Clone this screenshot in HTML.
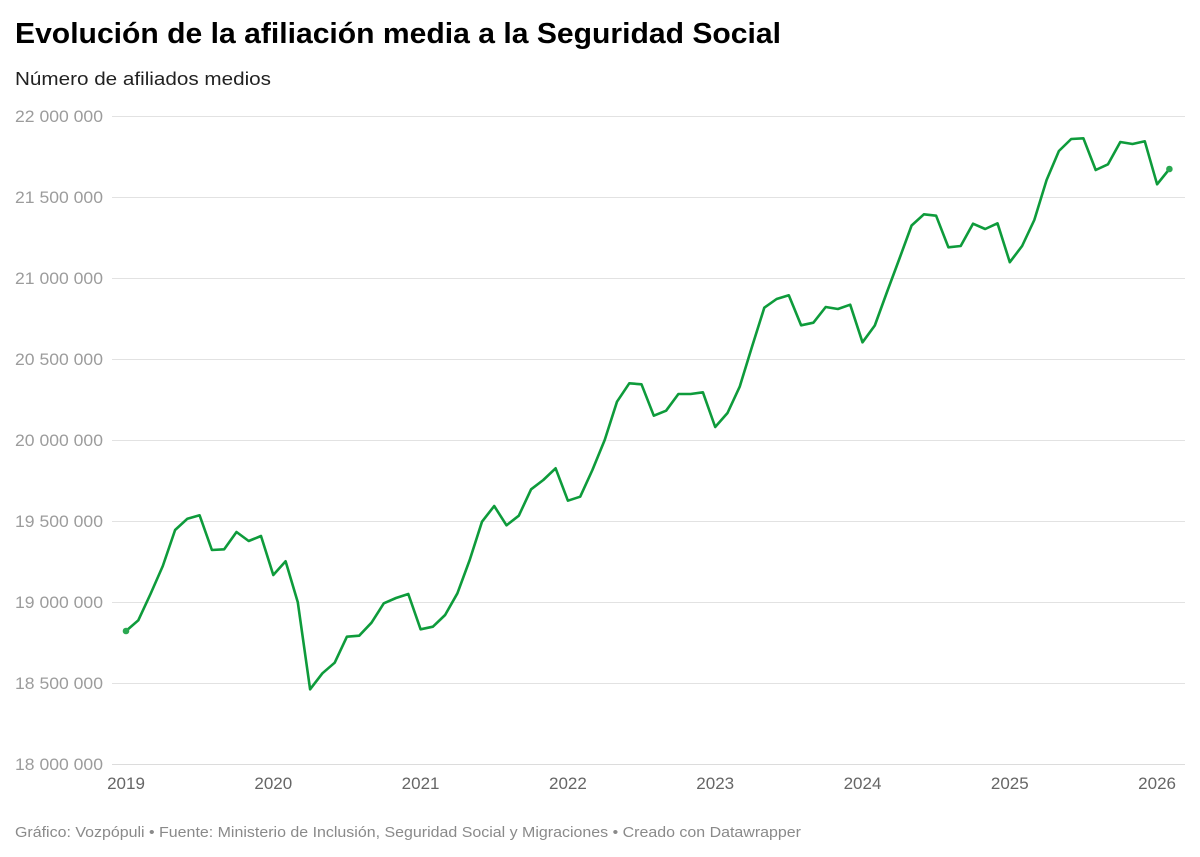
<!DOCTYPE html>
<html>
<head>
<meta charset="utf-8">
<style>
html,body{margin:0;padding:0;background:#fff;}
svg{display:block;}
text{font-family:"Liberation Sans",Arial,sans-serif;}
</style>
</head>
<body>
<svg width="1200" height="857" viewBox="0 0 1200 857" xmlns="http://www.w3.org/2000/svg">
<rect width="1200" height="857" fill="#fff"/>
<text x="15" y="43" font-size="29" font-weight="bold" fill="#000" textLength="766" lengthAdjust="spacingAndGlyphs">Evolución de la afiliación media a la Seguridad Social</text>
<text x="15" y="85" font-size="18" fill="#222" textLength="256" lengthAdjust="spacingAndGlyphs">Número de afiliados medios</text>

<g stroke="#e2e2e2" stroke-width="1">
<line x1="112" y1="116.5" x2="1185" y2="116.5"/>
<line x1="112" y1="197.5" x2="1185" y2="197.5"/>
<line x1="112" y1="278.5" x2="1185" y2="278.5"/>
<line x1="112" y1="359.5" x2="1185" y2="359.5"/>
<line x1="112" y1="440.5" x2="1185" y2="440.5"/>
<line x1="112" y1="521.5" x2="1185" y2="521.5"/>
<line x1="112" y1="602.5" x2="1185" y2="602.5"/>
<line x1="112" y1="683.5" x2="1185" y2="683.5"/>
<line x1="112" y1="764.5" x2="1185" y2="764.5" stroke="#dcdcdc"/>
</g>

<g font-size="17" fill="#9c9c9c">
<text x="15" y="122" textLength="88" lengthAdjust="spacingAndGlyphs">22 000 000</text>
<text x="15" y="203" textLength="88" lengthAdjust="spacingAndGlyphs">21 500 000</text>
<text x="15" y="284" textLength="88" lengthAdjust="spacingAndGlyphs">21 000 000</text>
<text x="15" y="365" textLength="88" lengthAdjust="spacingAndGlyphs">20 500 000</text>
<text x="15" y="446" textLength="88" lengthAdjust="spacingAndGlyphs">20 000 000</text>
<text x="15" y="527" textLength="88" lengthAdjust="spacingAndGlyphs">19 500 000</text>
<text x="15" y="608" textLength="88" lengthAdjust="spacingAndGlyphs">19 000 000</text>
<text x="15" y="689" textLength="88" lengthAdjust="spacingAndGlyphs">18 500 000</text>
<text x="15" y="770" textLength="88" lengthAdjust="spacingAndGlyphs">18 000 000</text>
</g>

<g font-size="17" fill="#666" text-anchor="middle">
<text x="126" y="789">2019</text>
<text x="273.3" y="789">2020</text>
<text x="420.6" y="789">2021</text>
<text x="567.9" y="789">2022</text>
<text x="715.2" y="789">2023</text>
<text x="862.5" y="789">2024</text>
<text x="1009.8" y="789">2025</text>
<text x="1157.1" y="789">2026</text>
</g>

<polyline fill="none" stroke="#0e9b3b" stroke-width="2.6" stroke-linejoin="round" stroke-linecap="round" points="
126,631 138.3,620.3 150.5,594 162.8,566 175.1,530 187.4,518.7 199.6,515.3 211.9,550 224.2,549.3 236.5,532 248.7,541 261,536
273.3,575 285.6,561.3 297.8,602.3 310.1,689.3 322.4,673.3 334.7,662.7 346.9,636.7 359.2,635.7 371.5,622.7 383.8,603.3 396,598 408.3,594
420.6,629.3 432.9,626.7 445.1,615 457.4,593.3 469.7,560 482,521.7 494.2,506 506.5,525.3 518.8,515.7 531.1,489.3 543.3,480 555.6,468.3
567.9,500.7 580.2,496.7 592.4,470 604.7,440 617,401.7 629.3,383.3 641.5,384.3 653.8,415.7 666.1,410.7 678.4,394 690.6,394 702.9,392.3
715.2,427 727.5,413 739.7,386.7 752,346.7 764.3,307.7 776.6,299 788.8,295.3 801.1,325.3 813.4,322.7 825.7,307 837.9,309 850.2,304.7
862.5,342.3 874.8,325.5 887,292 899.3,259 911.6,225.5 923.9,214.3 936.1,215.7 948.4,247.3 960.7,246 973,223.7 985.2,229 997.5,223.3
1009.8,262.2 1022.1,246 1034.3,220 1046.6,180 1058.9,151 1071.2,139 1083.4,138.3 1095.7,170 1108,164.3 1120.3,142 1132.5,144 1144.8,141.3
1157.1,184.3 1169.4,169"/>
<circle cx="126" cy="631" r="3.3" fill="#2aa851"/>
<circle cx="1169.4" cy="169" r="3.3" fill="#2aa851"/>

<text x="15" y="837" font-size="15" fill="#8a8a8a" textLength="786" lengthAdjust="spacingAndGlyphs">Gráfico: Vozpópuli • Fuente: Ministerio de Inclusión, Seguridad Social y Migraciones • Creado con Datawrapper</text>
</svg>
</body>
</html>
